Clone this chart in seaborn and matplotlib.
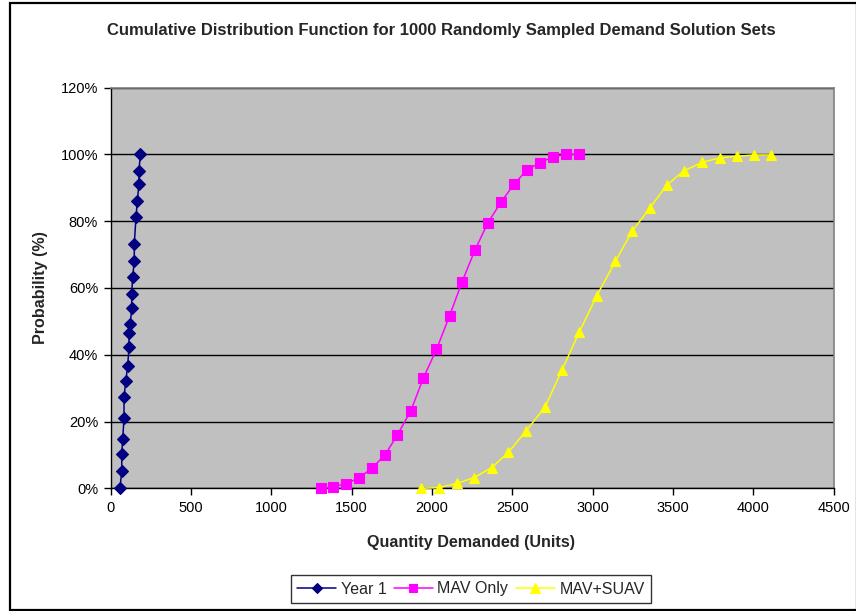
import matplotlib
matplotlib.use("Agg")
import matplotlib.pyplot as plt
import matplotlib.patches as mpatches
import numpy as np
import pandas as pd
import seaborn as sns

# Demand quantities (units) and cumulative probability (%) per scenario
year1_qty = [59, 70, 70, 76, 84, 84, 95, 107, 115, 115, 123, 132, 132, 138,
             148, 148, 159, 167, 177, 177, 186]
year1_pct = [0.0, 5.3, 10.3, 14.9, 21.0, 27.3, 32.1, 36.7, 42.3, 46.6, 49.3,
             53.9, 58.2, 63.4, 68.1, 73.2, 81.3, 86.0, 91.2, 95.0, 100.0]

mav_qty = [1309, 1387, 1466, 1547, 1626, 1707, 1786, 1869, 1948, 2029, 2110,
           2189, 2268, 2349, 2432, 2511, 2592, 2672, 2753, 2834, 2913]
mav_pct = [0.0, 0.4, 1.4, 3.1, 6.0, 9.9, 16.0, 23.2, 33.1, 41.6, 51.6,
           61.9, 71.3, 79.5, 85.8, 91.0, 95.3, 97.5, 99.2, 100.0, 100.0]

suav_qty = [1935, 2044, 2159, 2263, 2373, 2477, 2587, 2704, 2811, 2919, 3027,
            3143, 3247, 3355, 3461, 3567, 3683, 3791, 3899, 4007, 4113]
suav_pct = [0.0, 0.2, 1.5, 3.2, 6.2, 10.8, 17.2, 24.3, 35.5, 46.9, 57.7,
            68.0, 77.0, 83.8, 90.7, 95.0, 97.6, 98.9, 99.4, 99.8, 99.8]

series_names = ["Year 1", "MAV Only", "MAV+SUAV"]
x_ticks = [0, 500, 1000, 1500, 2000, 2500, 3000, 3500, 4000, 4500]
y_ticks = [0, 20, 40, 60, 80, 100, 120]

frames = []
for name, q, p in zip(series_names, [year1_qty, mav_qty, suav_qty],
                      [year1_pct, mav_pct, suav_pct]):
    frames.append(pd.DataFrame({"Quantity": q, "Probability": p, "Series": name}))
df = pd.concat(frames, ignore_index=True)

sns.set_theme(style="white")
plt.rcParams["font.family"] = ["Liberation Sans", "DejaVu Sans"]

W, H = 856, 611
fig = plt.figure(figsize=(W / 100, H / 100), dpi=100)
fig.patch.set_facecolor("white")

ax_l, ax_r, ax_t, ax_b = 110.5, 833.5, 87.5, 488.3
ax = fig.add_axes([ax_l / W, 1 - ax_b / H, (ax_r - ax_l) / W, (ax_b - ax_t) / H])
ax.set_facecolor("#C0C0C0")

palette = {"Year 1": "#000080", "MAV Only": "#FF00FF", "MAV+SUAV": "#FFFF00"}
markers = {"Year 1": "D", "MAV Only": "s", "MAV+SUAV": "^"}
marker_sizes = {"Year 1": 6.2, "MAV Only": 6.5, "MAV+SUAV": 7.5}

sns.lineplot(data=df, x="Quantity", y="Probability", hue="Series",
             style="Series", markers=markers, dashes=False, palette=palette,
             sort=False, estimator=None, linewidth=1.1,
             markeredgewidth=0.8, ax=ax, legend=True)

for line, name in zip(ax.lines, series_names):
    line.set_markeredgecolor(line.get_color())
    line.set_markersize(marker_sizes[name])
    line.set_clip_on(False)
    line.set_zorder(3)

ax.set_xlim(0, 4500)
ax.set_ylim(0, 120)
ax.set_xticks(x_ticks)
ax.set_yticks(y_ticks)
ax.set_xticklabels([str(t) for t in x_ticks], fontsize=10.5)
ax.set_yticklabels([f"{t}%" for t in y_ticks], fontsize=10.5)
ax.yaxis.grid(True, color="black", linewidth=1.0)
ax.xaxis.grid(False)
ax.set_axisbelow(True)
ax.tick_params(axis="both", direction="out", length=5, width=1, color="black",
               bottom=True, left=True, pad=4, labelcolor="black")

for side in ["top", "right"]:
    ax.spines[side].set_color("#808080")
    ax.spines[side].set_linewidth(1.2)
for side in ["left", "bottom"]:
    ax.spines[side].set_color("black")
    ax.spines[side].set_linewidth(1.0)

ax.set_xlabel("")
ax.set_ylabel("")

fig.text(441 / W, 1 - 30 / H,
         "Cumulative Distribution Function for 1000 Randomly Sampled Demand Solution Sets",
         ha="center", va="center", fontsize=12, fontweight="bold")
fig.text(471 / W, 1 - 542 / H, "Quantity Demanded (Units)", ha="center",
         va="center", fontsize=11.6, fontweight="bold")
fig.text(40 / W, 1 - 288 / H, "Probability (%)", ha="center", va="center",
         rotation=90, fontsize=11.6, fontweight="bold")

handles, labels = ax.get_legend_handles_labels()
for h, name in zip(handles, labels):
    h.set_markersize(marker_sizes[name] * 0.9)
    h.set_markeredgecolor(h.get_color())
ax.get_legend().remove()
leg = fig.legend(handles, labels, loc="center", ncol=3,
                 bbox_to_anchor=(471 / W, 1 - 589 / H), frameon=True,
                 fancybox=False, edgecolor="black", fontsize=11.5,
                 handlelength=2.4, handletextpad=0.3, columnspacing=0.5,
                 borderpad=0.4, borderaxespad=0)
leg.get_frame().set_linewidth(1.0)

# Chart border
fig.patches.append(mpatches.Rectangle((10 / W, 1 / H), (W - 9) / W, (H - 4) / H,
                                      transform=fig.transFigure, fill=False,
                                      edgecolor="black", linewidth=1.6))

fig.savefig("out.png", dpi=100)
